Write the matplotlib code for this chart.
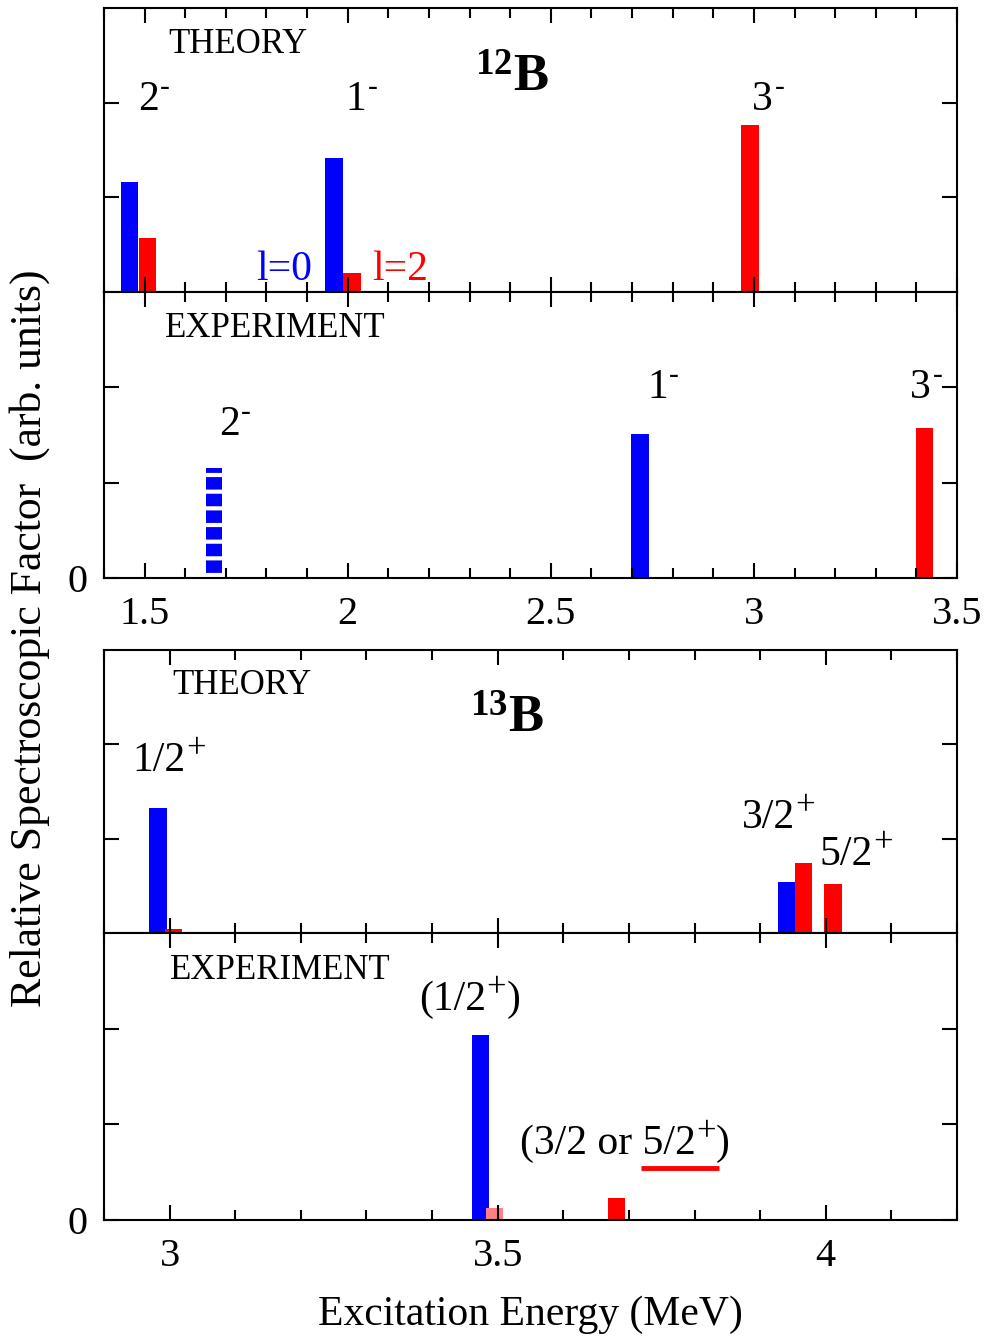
import matplotlib
matplotlib.use("Agg")
import matplotlib.pyplot as plt
from matplotlib.ticker import MultipleLocator

plt.rcParams['font.family'] = ['Liberation Serif', 'DejaVu Serif']
plt.rcParams['mathtext.fontset'] = 'custom'
plt.rcParams['mathtext.rm'] = 'Liberation Serif'
plt.rcParams['mathtext.bf'] = 'Liberation Serif:bold'
plt.rcParams['mathtext.it'] = 'Liberation Serif:italic'
plt.rcParams['hatch.linewidth'] = 3.0

BLUE = '#0000ff'
RED = '#ff0000'
PINK = '#ff8080'

# ---- 12B theory ----
b12_th_l0_x = [1.463, 1.966]
b12_th_l0_h = [1.16, 1.42]
b12_th_l2_x = [1.507, 2.010, 2.990]
b12_th_l2_h = [0.57, 0.20, 1.76]
b12_th_labels = [('2', '-', ''), ('1', '-', ''), ('3', '-', '')]
b12_th_label_x = [1.484, 1.994, 2.996]
b12_th_label_y = [2.03, 2.03, 2.03]

# ---- 12B experiment ----
b12_ex_tentative_x = [1.67]
b12_ex_tentative_h = [1.15]
b12_ex_l0_x = [2.72]
b12_ex_l0_h = [1.51]
b12_ex_l2_x = [3.42]
b12_ex_l2_h = [1.57]
b12_ex_labels = [('2', '-', ''), ('1', '-', ''), ('3', '-', '')]
b12_ex_label_x = [1.683, 2.737, 3.385]
b12_ex_label_y = [1.61, 2.00, 2.00]

# ---- 13B theory ----
b13_th_l0_x = [2.982, 3.940]
b13_th_l0_h = [1.33, 0.54]
b13_th_l2_x = [3.006, 3.966, 4.011]
b13_th_l2_h = [0.04, 0.74, 0.52]
b13_th_labels = [('1/2', '+', ''), ('3/2', '+', ''), ('5/2', '+', '')]
b13_th_label_x = [2.944, 3.872, 3.991]
b13_th_label_y = [1.83, 1.22, 0.83]

# ---- 13B experiment ----
b13_ex_l0_x = [3.474]
b13_ex_l0_h = [1.93]
b13_ex_weak_x = [3.495]
b13_ex_weak_h = [0.13]
b13_ex_l2_x = [3.681]
b13_ex_l2_h = [0.23]
b13_ex_labels = [('(1/2', '+', ')'), ('(3/2 or 5/2', '+', ')')]
b13_ex_label_x = [3.381, 3.534]
b13_ex_label_y = [2.30, 0.80]
underline_x = [3.718, 3.838]
underline_y = [0.54, 0.54]

W, H = 984, 1337
fig = plt.figure(figsize=(W / 100, H / 100), dpi=100)


def make_ax(top, bottom):
    return fig.add_axes([104 / W, 1 - bottom / H, 853 / W, (bottom - top) / H])


def style(ax, xlim, xlabels, ylabels):
    ax.set_xlim(*xlim)
    ax.set_ylim(0, 3)
    ax.xaxis.set_major_locator(MultipleLocator(0.5))
    ax.xaxis.set_minor_locator(MultipleLocator(0.1))
    ax.tick_params(axis='both', which='both', direction='in', top=True, right=True,
                   width=1.5, labelsize=29)
    ax.tick_params(axis='x', which='major', length=11, pad=13)
    ax.tick_params(axis='x', which='minor', length=7)
    ax.tick_params(axis='y', which='major', length=11, pad=12)
    if ylabels:
        ax.set_yticks([0, 1, 2])
        ax.set_yticklabels(['0', '', ''])
    else:
        ax.set_yticks([1, 2])
        ax.set_yticklabels([])
    if not xlabels:
        ax.set_xticklabels([])
    else:
        ax.xaxis.set_major_formatter(plt.FuncFormatter(lambda v, p: f'{v:g}'))
    for s in ax.spines.values():
        s.set_linewidth(1.5)


def level_label(ax, x, y, parts, fs=30):
    base, sup, tail = parts
    t = ax.text(x, y, base, fontsize=fs, ha='left', va='center')
    if sup == '-':
        s = ax.annotate('-', xy=(1.0, 0.80), xycoords=t, xytext=(1, 0),
                        textcoords='offset points', fontsize=21, ha='left', va='center')
    else:
        s = ax.annotate(sup, xy=(1.0, 0.78), xycoords=t, xytext=(0, 0),
                        textcoords='offset points', fontsize=25, ha='left', va='center')
    if tail:
        ax.annotate(tail, xy=(1.0, 0.0), xycoords=(s, t), fontsize=fs,
                    ha='left', va='bottom')


w12 = 0.043
w13 = 0.027

# Panel 1: 12B theory
ax1 = make_ax(8, 292)
ax1.bar(b12_th_l0_x, b12_th_l0_h, width=w12, color=BLUE, linewidth=0)
ax1.bar(b12_th_l2_x, b12_th_l2_h, width=w12, color=RED, linewidth=0)
for p, x, y in zip(b12_th_labels, b12_th_label_x, b12_th_label_y):
    level_label(ax1, x, y, p)
ax1.text(1.558, 2.61, 'THEORY', fontsize=25, ha='left', va='center')
ax1.text(2.405, 2.26, r'$^{\mathbf{12}}\mathbf{B}$', fontsize=38, ha='center', va='center')
ax1.text(1.774, 0.23, 'l=0', fontsize=30, color=BLUE, ha='left', va='center')
ax1.text(2.060, 0.23, 'l=2', fontsize=30, color=RED, ha='left', va='center')
style(ax1, (1.4, 3.5), False, False)

# Panel 2: 12B experiment
ax2 = make_ax(292, 578)
ax2.bar(b12_ex_tentative_x, b12_ex_tentative_h, width=w12 * 0.9, color=BLUE,
        edgecolor='white', linewidth=0, hatch='-')
ax2.bar(b12_ex_l0_x, b12_ex_l0_h, width=w12, color=BLUE, linewidth=0)
ax2.bar(b12_ex_l2_x, b12_ex_l2_h, width=w12, color=RED, linewidth=0)
for p, x, y in zip(b12_ex_labels, b12_ex_label_x, b12_ex_label_y):
    level_label(ax2, x, y, p)
ax2.text(1.55, 2.62, 'EXPERIMENT', fontsize=25, ha='left', va='center')
style(ax2, (1.4, 3.5), True, True)

# Panel 3: 13B theory
ax3 = make_ax(650, 933)
ax3.bar(b13_th_l0_x, b13_th_l0_h, width=w13, color=BLUE, linewidth=0)
ax3.bar(b13_th_l2_x, b13_th_l2_h, width=w13, color=RED, linewidth=0)
for p, x, y in zip(b13_th_labels, b13_th_label_x, b13_th_label_y):
    level_label(ax3, x, y, p)
ax3.text(3.004, 2.62, 'THEORY', fontsize=25, ha='left', va='center')
ax3.text(3.514, 2.26, r'$^{\mathbf{13}}\mathbf{B}$', fontsize=38, ha='center', va='center')
style(ax3, (2.9, 4.2), False, False)

# Panel 4: 13B experiment
ax4 = make_ax(933, 1220)
ax4.bar(b13_ex_l0_x, b13_ex_l0_h, width=w13, color=BLUE, linewidth=0)
ax4.bar(b13_ex_weak_x, b13_ex_weak_h, width=w13, color=PINK, linewidth=0)
ax4.bar(b13_ex_l2_x, b13_ex_l2_h, width=w13, color=RED, linewidth=0)
for p, x, y in zip(b13_ex_labels, b13_ex_label_x, b13_ex_label_y):
    level_label(ax4, x, y, p)
ax4.plot(underline_x, underline_y, color=RED, linewidth=3.5, solid_capstyle='butt')
ax4.text(3.0, 2.61, 'EXPERIMENT', fontsize=25, ha='left', va='center')
style(ax4, (2.9, 4.2), True, True)

fig.text(530 / W, 1 - 1315 / H, 'Excitation Energy (MeV)', fontsize=30,
         ha='center', va='center')
fig.text(30 / W, 1 - 638 / H, 'Relative Spectroscopic Factor  (arb. units)',
         fontsize=31.5, ha='center', va='center', rotation=90)

fig.savefig('out.png', dpi=100)
